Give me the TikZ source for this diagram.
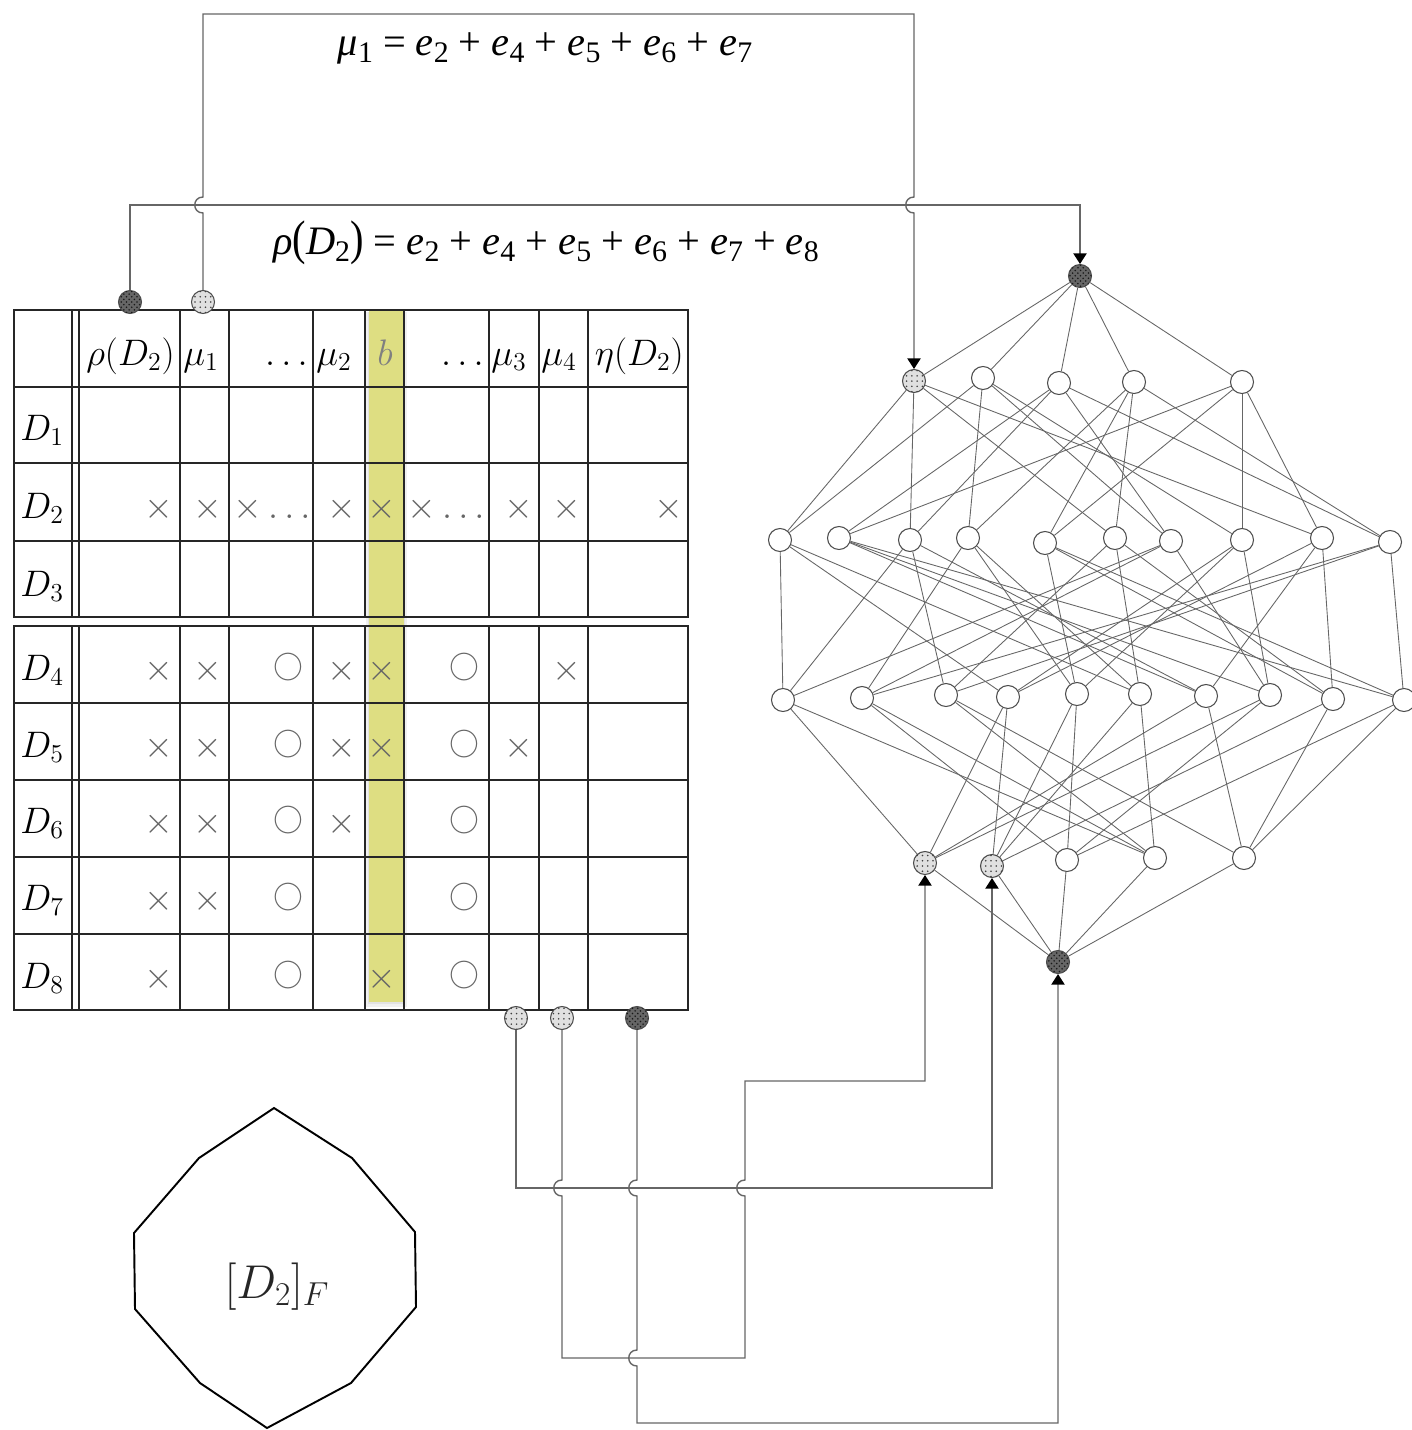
\RequirePackage{fix-cm}
\documentclass[tikz,border=0pt]{standalone}
\usepackage{fontspec}
\usepackage{graphicx}
\usetikzlibrary{arrows.meta,patterns,calc}
\newfontfamily\eqfont{Liberation Serif}
\definecolor{hlyellow}{RGB}{222,222,130}
\newcommand{\eqsub}[1]{\raisebox{-0.18em}{\fontsize{17}{17}\selectfont\upshape #1}}
\newcommand{\tabfont}{\fontsize{21}{24}\selectfont}

\tikzstyle{empty-node}=[inner sep=0pt]
\tikzstyle{head-text}=[empty-node,font=\tabfont]
\tikzstyle{mark-text}=[empty-node,font=\tabfont,text=black!60]
\tikzstyle{ring-text}=[empty-node,font=\fontsize{17}{20}\selectfont,text=black!60]
\tikzstyle{grid-line}=[draw=black!85,line width=0.8pt]
\tikzstyle{lattice-line}=[draw=black!60,line width=0.5pt]
\tikzstyle{wire-line}=[draw=black!60,line width=0.8pt]
\tikzstyle{plain-node}=[circle,draw=black!70,fill=white,line width=0.6pt,minimum size=0.46cm,inner sep=0pt]
\tikzstyle{dark-node}=[plain-node,fill=black!60,postaction={pattern=crosshatch dots,pattern color=black!90}]
\tikzstyle{dot-node}=[plain-node,fill=black!12,postaction={pattern=dots,pattern color=black!75}]
\tikzstyle{wire-tip}=[-{Triangle[width=7.5pt,length=6pt,black]}]

\begin{document}
\begin{tikzpicture}[x=0.02cm,y=-0.02cm]
    \useasboundingbox (0,0) rectangle (1412,1430);

    % highlighted column b, with a soft shadow
    \fill[black,opacity=0.06] (366,312) rectangle (407,1007);
    \fill[black,opacity=0.06] (368,312) rectangle (405,1004);
    \fill[hlyellow] (369,310) rectangle (404,1002);

    % table grid
    \begin{scope}
        \draw[grid-line] (14,310) rectangle (688,617);
        \draw[grid-line] (14,626) rectangle (688,1010);
        \foreach \yy in {387,463,541,703,780,857,934}
            \draw[grid-line] (14,\yy) -- (688,\yy);
        \foreach \xx in {72,79,180,229,313,365,404,489,539,588} {
            \draw[grid-line] (\xx,310) -- (\xx,617);
            \draw[grid-line] (\xx,626) -- (\xx,1010);
        }
    \end{scope}

    % header and row labels
    \begin{scope}
        \node (h-rho)[head-text,anchor=base east] at (175,365) {$\rho(D_2)$};
        \node (h-mu1)[head-text,anchor=base west] at (183,365) {$\mu_1$};
        \node (h-dots1)[head-text,anchor=base east] at (308,365) {$\ldots$};
        \node (h-mu2)[head-text,anchor=base west] at (316,365) {$\mu_2$};
        \node (h-b)[head-text,anchor=base,text=black!50] at (385,365) {$b$};
        \node (h-dots2)[head-text,anchor=base east] at (484,365) {$\ldots$};
        \node (h-mu3)[head-text,anchor=base west] at (491,365) {$\mu_3$};
        \node (h-mu4)[head-text,anchor=base west] at (541,365) {$\mu_4$};
        \node (h-eta)[head-text,anchor=base east] at (684,365) {$\eta(D_2)$};
        \foreach \r/\yy in {1/440,2/518,3/596,4/680,5/757,6/833,7/910,8/988}
            \node (row-\r)[head-text,anchor=base west] at (20,\yy) {$D_{\r}$};
    \end{scope}

    % crosses and circles
    \begin{scope}
        \foreach \xx [count=\i] in {159,208,342,382,519,567,669}
            \node (m2-\i)[mark-text,anchor=base] at (\xx,518) {$\times$};
        \node (m2-a)[mark-text,anchor=base west] at (233,518) {$\times\ldots$};
        \node (m2-b)[mark-text,anchor=base west] at (407,518) {$\times\ldots$};
        \foreach \r/\yy/\xs in {4/680/{159,208,342,382,567},5/757/{159,208,342,382,519},
                6/833/{159,208,342},7/910/{159,208},8/988/{159,382}} {
            \foreach \xx [count=\i] in \xs
                \node (m\r-\i)[mark-text,anchor=base] at (\xx,\yy) {$\times$};
            \node (o\r-a)[ring-text] at (288,\yy-13) {$\bigcirc$};
            \node (o\r-b)[ring-text] at (464,\yy-13) {$\bigcirc$};
        }
    \end{scope}

    % ports on the table
    \node (tab-rho)[dark-node] at (130,302) {};
    \node (tab-mu1)[dot-node] at (203,302) {};
    \node (tab-mu3)[dot-node] at (516,1018) {};
    \node (tab-mu4)[dot-node] at (562,1018) {};
    \node (tab-eta)[dark-node] at (637,1018) {};

    % lattice
    \begin{scope}
        \node (t)[dark-node] at (1080,276) {};
        \node (a1)[dot-node] at (914,381) {};
        \foreach \n/\xx/\yy in {a2/983/378,a3/1059/383,a4/1134/382,a5/1242/382,
                b1/780/540,b2/839/538,b3/910/540,b4/968/538,b5/1045/543,
                b6/1115/538,b7/1171/541,b8/1242/540,b9/1322/538,b10/1390/542,
                c1/783/700,c2/862/698,c3/946/695,c4/1008/697,c5/1077/694,
                c6/1140/694,c7/1206/696,c8/1270/695,c9/1333/699,c10/1404/700,
                d3/1067/860,d4/1155/858,d5/1244/858}
            \node (\n)[plain-node] at (\xx,\yy) {};
        \node (d1)[dot-node] at (925,863) {};
        \node (d2)[dot-node] at (992,866) {};
        \node (z)[dark-node] at (1058,962) {};
    \end{scope}

    \begin{scope}[every edge/.style=lattice-line]
        \foreach \u/\l in {t/a1,t/a2,t/a3,t/a4,t/a5,
                a1/b1,a1/b3,a1/b6,a1/b9,a2/b1,a2/b4,a2/b7,a2/b8,
                a3/b2,a3/b3,a3/b7,a3/b10,a4/b4,a4/b5,a4/b6,a4/b10,
                a5/b2,a5/b5,a5/b8,a5/b9,
                b1/c1,b1/c4,b1/c6,b2/c7,b2/c8,b2/c10,b3/c1,b3/c3,b3/c7,
                b4/c2,b4/c5,b4/c6,b5/c5,b5/c9,b5/c10,b6/c3,b6/c6,b6/c9,
                b7/c1,b7/c2,b7/c8,b8/c4,b8/c5,b8/c8,b9/c4,b9/c7,b9/c9,
                b10/c2,b10/c3,b10/c10,
                c1/d1,c1/d4,c2/d3,c2/d4,c3/d4,c3/d5,c4/d1,c4/d2,c5/d2,c5/d3,
                c6/d2,c6/d4,c7/d1,c7/d5,c8/d1,c8/d3,c9/d2,c9/d5,c10/d3,c10/d5,
                d1/z,d2/z,d3/z,d4/z,d5/z}
            \path (\u) edge (\l);
    \end{scope}

    % wires from the table to the lattice
    \coordinate (rho-bend) at (1080,205);
    \coordinate (hop-a) at (203,205);
    \coordinate (hop-b) at (914,205);
    \coordinate (mu1-bend-a) at (203,14);
    \coordinate (mu1-bend-b) at (914,14);
    \coordinate (mu3-bend) at (992,1188);
    \coordinate (hop-c) at (562,1188);
    \coordinate (hop-d) at (637,1188);
    \coordinate (hop-e) at (745,1188);
    \coordinate (hop-f) at (637,1358);
    \coordinate (mu4-bend-a) at (562,1358);
    \coordinate (mu4-bend-b) at (745,1358);
    \coordinate (mu4-bend-c) at (745,1081);
    \coordinate (mu4-bend-d) at (925,1081);
    \coordinate (eta-bend-a) at (637,1423);
    \coordinate (eta-bend-b) at (1058,1423);

    \draw[wire-line,wire-tip] (tab-rho.north) |- (rho-bend) -- (t.north);
    \draw[wire-line,wire-tip] (tab-mu1.north) -- ($(hop-a)+(0,8)$)
        .. controls ($(hop-a)+(-11,8)$) and ($(hop-a)+(-11,-8)$) .. ($(hop-a)+(0,-8)$)
        -- (mu1-bend-a) -- (mu1-bend-b) -- ($(hop-b)+(0,-8)$)
        .. controls ($(hop-b)+(-11,-8)$) and ($(hop-b)+(-11,8)$) .. ($(hop-b)+(0,8)$)
        -- (a1.north);
    \draw[wire-line,wire-tip] (tab-mu3.south) |- (mu3-bend) -- (d2.south);
    \draw[wire-line,wire-tip] (tab-mu4.south) -- ($(hop-c)+(0,-8)$)
        .. controls ($(hop-c)+(-11,-8)$) and ($(hop-c)+(-11,8)$) .. ($(hop-c)+(0,8)$)
        -- (mu4-bend-a) -- (mu4-bend-b) -- ($(hop-e)+(0,8)$)
        .. controls ($(hop-e)+(-11,8)$) and ($(hop-e)+(-11,-8)$) .. ($(hop-e)+(0,-8)$)
        -- (mu4-bend-c) -- (mu4-bend-d) -- (d1.south);
    \draw[wire-line,wire-tip] (tab-eta.south) -- ($(hop-d)+(0,-8)$)
        .. controls ($(hop-d)+(-11,-8)$) and ($(hop-d)+(-11,8)$) .. ($(hop-d)+(0,8)$)
        -- ($(hop-f)+(0,-8)$)
        .. controls ($(hop-f)+(-11,-8)$) and ($(hop-f)+(-11,8)$) .. ($(hop-f)+(0,8)$)
        -- (eta-bend-a) -- (eta-bend-b) -- (z.south);

    % formulas
    \node (mu1-label)[empty-node] at (545,48) {\eqfont\fontsize{23}{27}\selectfont
        \itshape μ\eqsub{1} {\upshape=} e\eqsub{2} {\upshape+} e\eqsub{4} {\upshape+}
        e\eqsub{5} {\upshape+} e\eqsub{6} {\upshape+} e\eqsub{7}};
    \node (rho-label)[empty-node] at (546,243) {\eqfont\fontsize{23}{27}\selectfont
        \itshape ρ{\upshape\scalebox{1}[1.2]{(}}D\eqsub{2}{\upshape\scalebox{1}[1.2]{)}} {\upshape=}
        e\eqsub{2} {\upshape+} e\eqsub{4} {\upshape+} e\eqsub{5} {\upshape+}
        e\eqsub{6} {\upshape+} e\eqsub{7} {\upshape+} e\eqsub{8}};

    % the class of D_2
    \draw[line width=1.1pt] (274,1108) -- (352,1158) -- (415,1232) -- (416,1307)
        -- (351,1383) -- (267,1428) -- (200,1383) -- (135,1309) -- (134,1233)
        -- (199,1158) -- cycle;
    \node (class-label)[empty-node,font=\fontsize{27}{30}\selectfont,text=black!85]
        at (277,1287) {$[D_2]_F$};
\end{tikzpicture}
\end{document}
